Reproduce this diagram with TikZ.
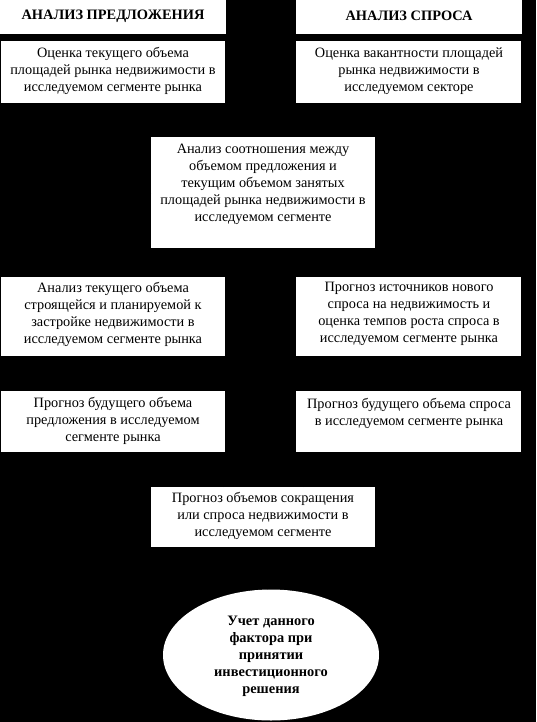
\documentclass[tikz,border=0pt]{standalone}
\usepackage{fontspec}
\setmainfont{Liberation Serif}
\usetikzlibrary{shapes.geometric,arrows.meta}
\begin{document}
\begin{tikzpicture}[x=1pt,y=-1pt,
  box/.style={fill=white,draw=none,inner sep=0pt,anchor=north west},
  txt/.style={align=center,font=\fontsize{14.3}{17}\selectfont,inner sep=0pt,text=black},
  head/.style={align=center,font=\fontsize{14.4}{17}\selectfont\bfseries,inner sep=0pt},
  conn/.style={draw=black,-{Stealth[length=5pt]}}]
\fill[black] (0,0) rectangle (536,722);
\useasboundingbox (0,0) rectangle (536,722);
% headers
\node[box,minimum width=226pt,minimum height=34pt] (hl) at (0,0) {};
\node[head] (hlt) at (113,16) {АНАЛИЗ ПРЕДЛОЖЕНИЯ};
\node[box,minimum width=226pt,minimum height=34pt] (hr) at (296,0) {};
\node[head] (hrt) at (409,16) {АНАЛИЗ СПРОСА};
% row 1
\node[box,minimum width=224pt,minimum height=62pt] (a1) at (1,41) {};
\node[txt] (a1t) at (113,71) {Оценка текущего объема\\площадей рынка недвижимости в\\исследуемом сегменте рынка};
\node[box,minimum width=225pt,minimum height=62pt] (b1) at (296,41) {};
\node[txt] (b1t) at (409,71) {Оценка вакантности площадей\\рынка недвижимости в\\исследуемом секторе};
% center
\node[box,minimum width=224pt,minimum height=111pt] (c1) at (151,137) {};
\node[txt] (c1t) at (263,184) {Анализ соотношения между\\объемом предложения и\\текущим объемом занятых\\площадей рынка недвижимости в\\исследуемом сегменте};
% row 3
\node[box,minimum width=224pt,minimum height=79pt] (a3) at (1,277) {};
\node[txt] (a3t) at (113,314) {Анализ текущего объема\\строящейся и планируемой к\\застройке недвижимости в\\исследуемом сегменте рынка};
\node[box,minimum width=225pt,minimum height=79pt] (b3) at (296,277) {};
\node[txt] (b3t) at (409,314) {Прогноз источников нового\\спроса на недвижимость и\\оценка темпов роста спроса в\\исследуемом сегменте рынка};
% row 4
\node[box,minimum width=224pt,minimum height=61pt] (a4) at (1,391) {};
\node[txt] (a4t) at (113,421) {Прогноз будущего объема\\предложения в исследуемом\\сегменте рынка};
\node[box,minimum width=225pt,minimum height=61pt] (b4) at (296,391) {};
\node[txt] (b4t) at (409,413) {Прогноз будущего объема спроса\\в исследуемом сегменте рынка};
% center 2
\node[box,minimum width=224pt,minimum height=60pt] (c2) at (151,487) {};
\node[txt] (c2t) at (263,516) {Прогноз объемов сокращения\\или спроса недвижимости в\\исследуемом сегменте};
% ellipse
\node[ellipse,fill=white,draw=none,minimum width=216pt,minimum height=131pt,inner sep=0pt] (e) at (271,655) {};
\node[head] (et) at (271,656) {Учет данного\\фактора при\\принятии\\инвестиционного\\решения};
% connectors (black on black, as in the reference)
\draw[conn] (hl) -- (a1);
\draw[conn] (hr) -- (b1);
\draw[conn] (a1.south) |- ++(0,17) -| ([xshift=-40pt]c1.north);
\draw[conn] (b1.south) |- ++(0,17) -| ([xshift=40pt]c1.north);
\draw[conn] (c1.west) -| (a3.north);
\draw[conn] (c1.east) -| (b3.north);
\draw[conn] (a3) -- (a4);
\draw[conn] (b3) -- (b4);
\draw[conn] (a4.south) |- ++(0,17) -| ([xshift=-40pt]c2.north);
\draw[conn] (b4.south) |- ++(0,17) -| ([xshift=40pt]c2.north);
\draw[conn] (c2) -- (e);
\end{tikzpicture}
\end{document}
